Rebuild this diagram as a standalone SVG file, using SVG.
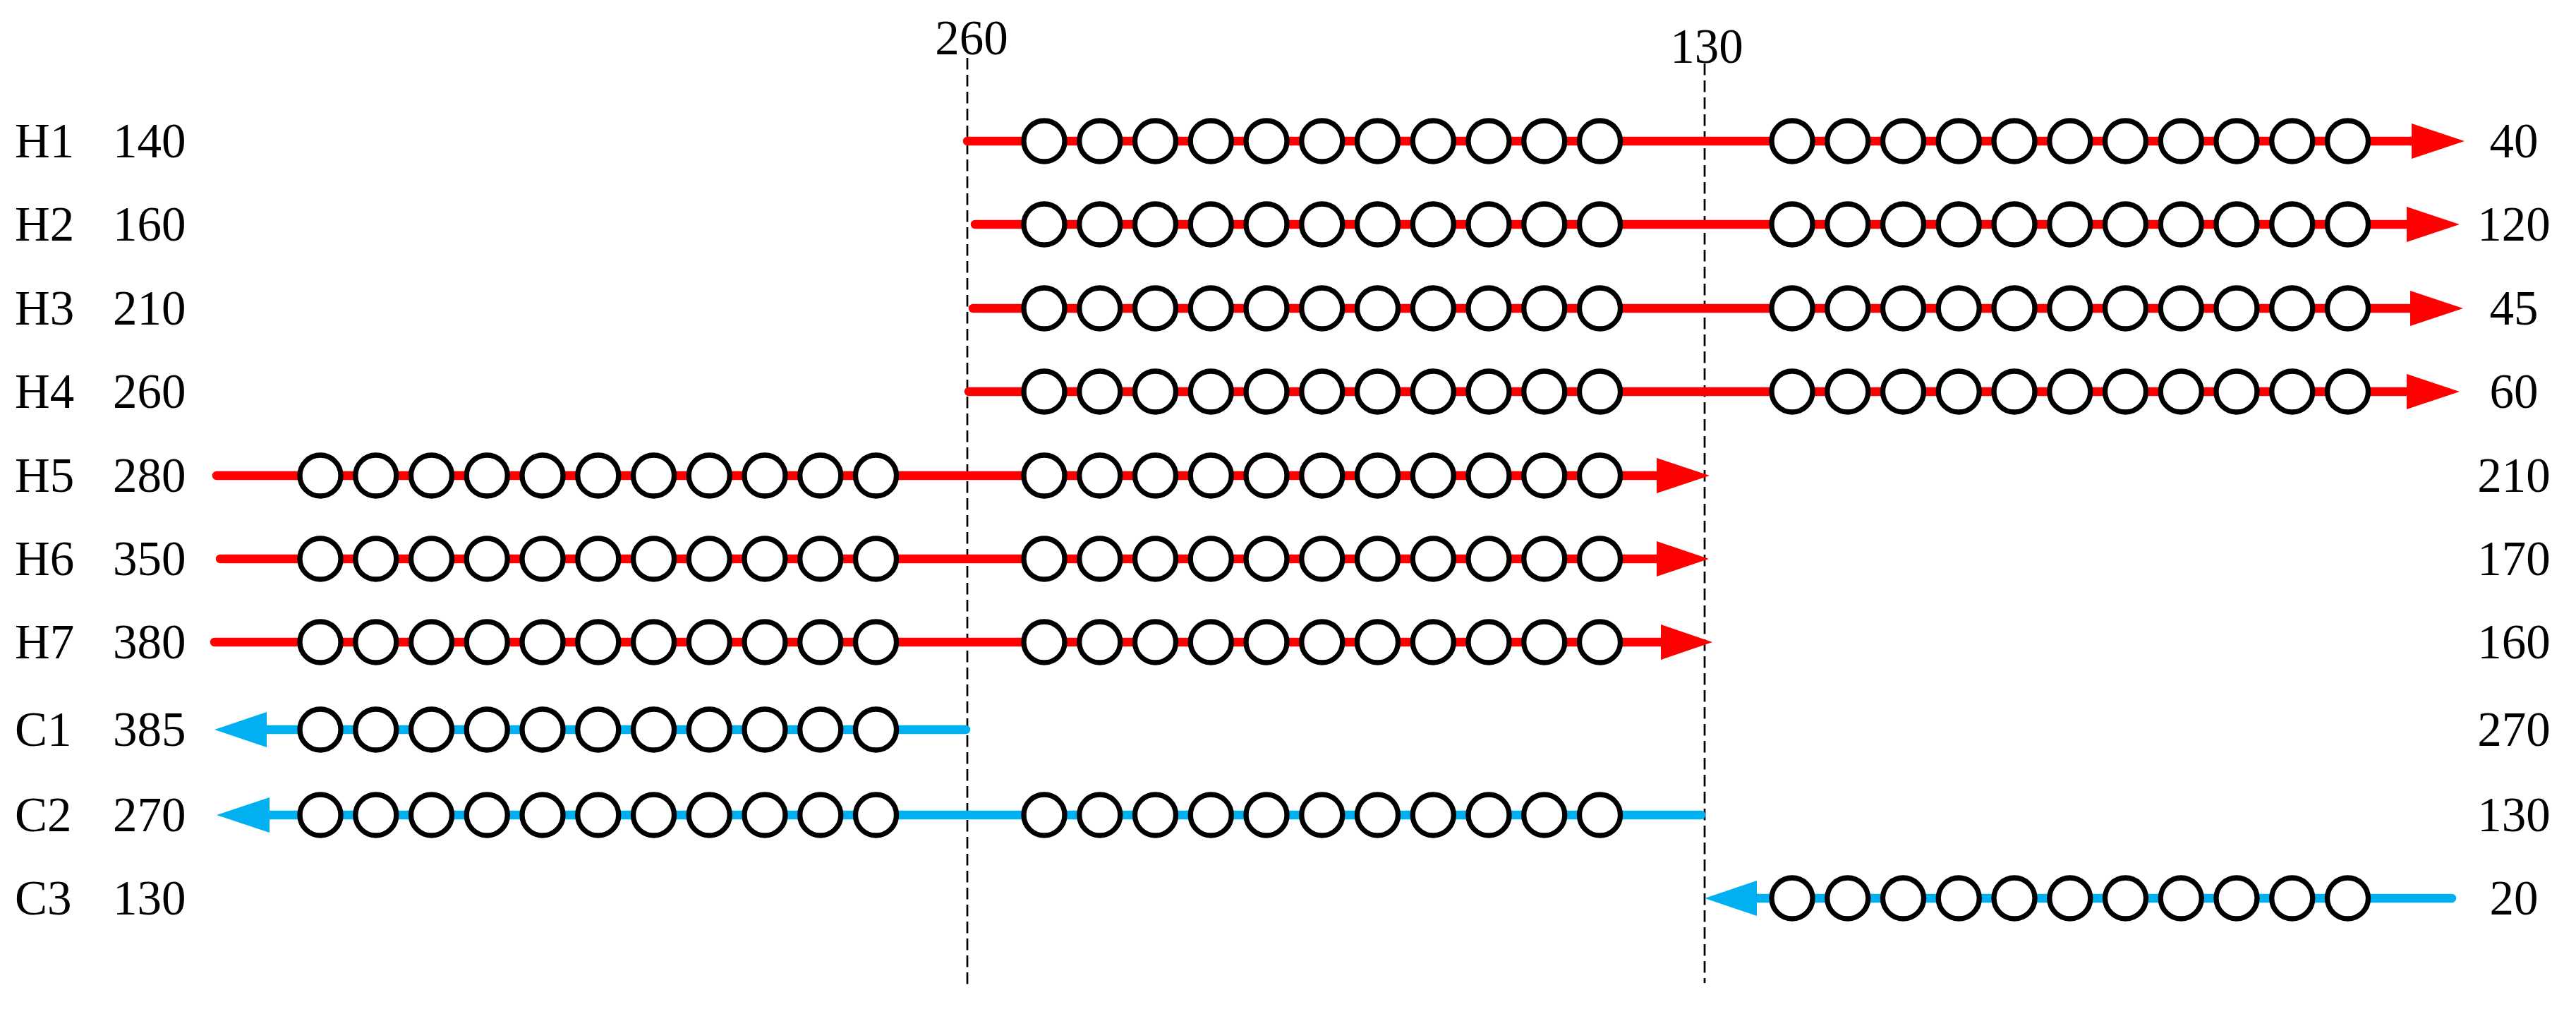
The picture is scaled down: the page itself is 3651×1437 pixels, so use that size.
<svg xmlns="http://www.w3.org/2000/svg" xmlns:xlink="http://www.w3.org/1999/xlink" width="3651" height="1437" viewBox="0 0 3651 1437">
<style>
text{font-family:"Liberation Serif","Times New Roman",serif;font-size:69px;fill:#000}
.mid{text-anchor:middle}
.hot{stroke:#FF0000;stroke-width:12.5;stroke-linecap:round;fill:none}
.cold{stroke:#00B0F0;stroke-width:12.5;stroke-linecap:round;fill:none}
.ha{fill:#FF0000}
.ca{fill:#00B0F0}
.ring{fill:#fff;stroke:#000;stroke-width:7.3}
.guide{stroke:#000;stroke-width:2.7;stroke-dasharray:16.5 7.5;fill:none}
</style>
<defs>
<g id="rings">
<circle class="ring" cx="0" cy="0" r="29"/>
<circle class="ring" cx="78.75" cy="0" r="29"/>
<circle class="ring" cx="157.5" cy="0" r="29"/>
<circle class="ring" cx="236.25" cy="0" r="29"/>
<circle class="ring" cx="315" cy="0" r="29"/>
<circle class="ring" cx="393.75" cy="0" r="29"/>
<circle class="ring" cx="472.5" cy="0" r="29"/>
<circle class="ring" cx="551.25" cy="0" r="29"/>
<circle class="ring" cx="630" cy="0" r="29"/>
<circle class="ring" cx="708.75" cy="0" r="29"/>
<circle class="ring" cx="787.5" cy="0" r="29"/>
</g>
</defs>
<rect x="0" y="0" width="3651" height="1437" fill="#fff"/>
<g id="connectors">
<line class="guide" x1="1371" y1="82" x2="1371" y2="1395"/>
<line class="guide" x1="2416" y1="90" x2="2416" y2="1393"/>
<text class="mid" x="1377" y="77">260</text>
<text class="mid" x="2419" y="89">130</text>
</g>
<g id="H1">
<line class="hot" x1="1371" y1="200" x2="3420" y2="200"/>
<polygon class="ha" points="3418,175 3493,200 3418,225"/>
<use xlink:href="#rings" href="#rings" x="1480" y="200"/>
<use xlink:href="#rings" href="#rings" x="2540" y="200"/>
<text x="21" y="223">H1</text><text x="160" y="223">140</text>
<text class="mid" x="3563" y="223">40</text>
</g>
<g id="H2">
<line class="hot" x1="1382" y1="318" x2="3413" y2="318"/>
<polygon class="ha" points="3411,293 3486,318 3411,343"/>
<use xlink:href="#rings" href="#rings" x="1480" y="318"/>
<use xlink:href="#rings" href="#rings" x="2540" y="318"/>
<text x="21" y="341">H2</text><text x="160" y="341">160</text>
<text class="mid" x="3563" y="341">120</text>
</g>
<g id="H3">
<line class="hot" x1="1379" y1="437" x2="3418" y2="437"/>
<polygon class="ha" points="3416,412 3491,437 3416,462"/>
<use xlink:href="#rings" href="#rings" x="1480" y="437"/>
<use xlink:href="#rings" href="#rings" x="2540" y="437"/>
<text x="21" y="460">H3</text><text x="160" y="460">210</text>
<text class="mid" x="3563" y="460">45</text>
</g>
<g id="H4">
<line class="hot" x1="1373" y1="555" x2="3413" y2="555"/>
<polygon class="ha" points="3411,530 3486,555 3411,580"/>
<use xlink:href="#rings" href="#rings" x="1480" y="555"/>
<use xlink:href="#rings" href="#rings" x="2540" y="555"/>
<text x="21" y="578">H4</text><text x="160" y="578">260</text>
<text class="mid" x="3563" y="578">60</text>
</g>
<g id="H5">
<line class="hot" x1="307" y1="674" x2="2350" y2="674"/>
<polygon class="ha" points="2348,649 2423,674 2348,699"/>
<use xlink:href="#rings" href="#rings" x="454" y="674"/>
<use xlink:href="#rings" href="#rings" x="1480" y="674"/>
<text x="21" y="697">H5</text><text x="160" y="697">280</text>
<text class="mid" x="3563" y="697">210</text>
</g>
<g id="H6">
<line class="hot" x1="312" y1="792" x2="2350" y2="792"/>
<polygon class="ha" points="2348,767 2422,792 2348,817"/>
<use xlink:href="#rings" href="#rings" x="454" y="792"/>
<use xlink:href="#rings" href="#rings" x="1480" y="792"/>
<text x="21" y="815">H6</text><text x="160" y="815">350</text>
<text class="mid" x="3563" y="815">170</text>
</g>
<g id="H7">
<line class="hot" x1="304" y1="910" x2="2356" y2="910"/>
<polygon class="ha" points="2354,885 2427,910 2354,935"/>
<use xlink:href="#rings" href="#rings" x="454" y="910"/>
<use xlink:href="#rings" href="#rings" x="1480" y="910"/>
<text x="21" y="933">H7</text><text x="160" y="933">380</text>
<text class="mid" x="3563" y="933">160</text>
</g>
<g id="C1">
<line class="cold" x1="376" y1="1034" x2="1369" y2="1034"/>
<polygon class="ca" points="378,1009 304,1034 378,1059"/>
<use xlink:href="#rings" href="#rings" x="454" y="1034"/>
<text x="21" y="1057">C1</text><text x="160" y="1057">385</text>
<text class="mid" x="3563" y="1057">270</text>
</g>
<g id="C2">
<line class="cold" x1="380" y1="1155" x2="2411" y2="1155"/>
<polygon class="ca" points="382,1130 307,1155 382,1180"/>
<use xlink:href="#rings" href="#rings" x="454" y="1155"/>
<use xlink:href="#rings" href="#rings" x="1480" y="1155"/>
<text x="21" y="1178">C2</text><text x="160" y="1178">270</text>
<text class="mid" x="3563" y="1178">130</text>
</g>
<g id="C3">
<line class="cold" x1="2488" y1="1273" x2="3475" y2="1273"/>
<polygon class="ca" points="2490,1248 2416,1273 2490,1298"/>
<use xlink:href="#rings" href="#rings" x="2540" y="1273"/>
<text x="21" y="1296">C3</text><text x="160" y="1296">130</text>
<text class="mid" x="3563" y="1296">20</text>
</g>
</svg>
